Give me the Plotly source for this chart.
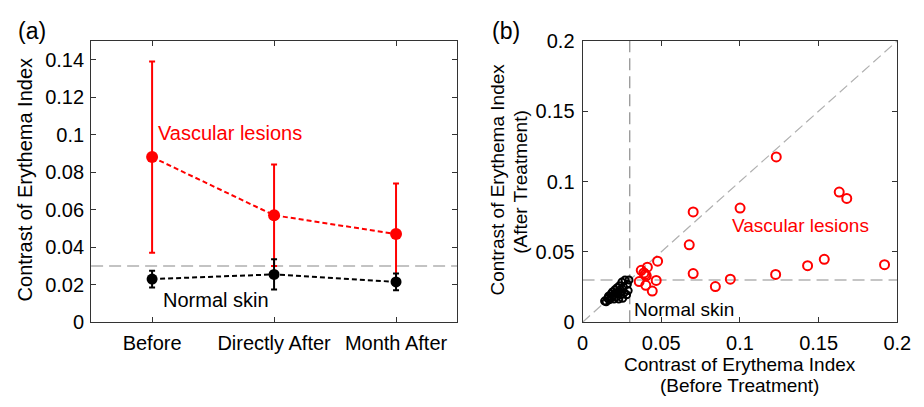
import plotly.graph_objects as go

# ---------- Data ----------
stages = ["Before", "Directly After", "Month After"]
stage_pos = [1, 2, 3]
lesion_mean = [0.088, 0.057, 0.047]
lesion_err = [0.051, 0.027, 0.027]
normal_mean = [0.023, 0.0255, 0.0215]
normal_err = [0.0045, 0.008, 0.0045]
threshold = 0.03

lesion_before = [0.1231, 0.1631, 0.1679, 0.1001, 0.0703, 0.0678, 0.0477, 0.1536, 0.1430,
                 0.1919, 0.1227, 0.0703, 0.0939, 0.0844, 0.0468, 0.0443, 0.0402, 0.0360,
                 0.0412, 0.0373, 0.0398, 0.0405, 0.0390]
lesion_after = [0.1175, 0.0925, 0.0880, 0.0811, 0.0784, 0.0550, 0.0434, 0.0447, 0.0402,
                0.0409, 0.0340, 0.0346, 0.0306, 0.0253, 0.0297, 0.0221, 0.0262, 0.0289,
                0.0391, 0.0369, 0.0340, 0.0330, 0.0350]
normal_before = [0.0140, 0.0150, 0.0160, 0.0165, 0.0170, 0.0180, 0.0185, 0.0190, 0.0195,
                 0.0200, 0.0205, 0.0210, 0.0215, 0.0220, 0.0225, 0.0230, 0.0235, 0.0240,
                 0.0245, 0.0250, 0.0255, 0.0260, 0.0265, 0.0270, 0.0280, 0.0285, 0.0295,
                 0.0290]
normal_after = [0.0150, 0.0145, 0.0170, 0.0185, 0.0160, 0.0200, 0.0175, 0.0215, 0.0190,
                0.0165, 0.0230, 0.0205, 0.0180, 0.0245, 0.0215, 0.0165, 0.0260, 0.0230,
                0.0195, 0.0285, 0.0170, 0.0250, 0.0210, 0.0300, 0.0195, 0.0270, 0.0300,
                0.0225]

FONT = "Arial, Liberation Sans, sans-serif"
RED = "#ff0000"
FS = 20

fig = go.Figure()

# ---------- Panel (a) ----------
fig.add_trace(go.Scatter(
    x=stage_pos, y=lesion_mean, mode="lines+markers",
    line=dict(color=RED, width=2, dash="5px,3px"),
    marker=dict(color=RED, size=12),
    error_y=dict(type="data", array=lesion_err, color=RED, thickness=2, width=3),
    xaxis="x", yaxis="y", showlegend=False))
fig.add_trace(go.Scatter(
    x=stage_pos, y=normal_mean, mode="lines+markers",
    line=dict(color="black", width=2, dash="5px,3px"),
    marker=dict(color="black", size=11),
    error_y=dict(type="data", array=normal_err, color="black", thickness=2, width=3),
    xaxis="x", yaxis="y", showlegend=False))

# ---------- Panel (b) ----------
fig.add_trace(go.Scatter(
    x=lesion_before, y=lesion_after, mode="markers",
    marker=dict(symbol="circle-open", color=RED, size=9, line=dict(width=2, color=RED)),
    xaxis="x2", yaxis="y2", showlegend=False))
fig.add_trace(go.Scatter(
    x=normal_before, y=normal_after, mode="markers",
    marker=dict(symbol="circle-open", color="black", size=7, line=dict(width=2, color="black")),
    xaxis="x2", yaxis="y2", showlegend=False))

shapes = [
    dict(type="line", xref="x domain", x0=0, x1=1, yref="y", y0=threshold, y1=threshold,
         line=dict(color="#b0b0b0", width=1.5, dash="12px,6px"), layer="below"),
    dict(type="line", xref="x2", x0=0, x1=0.2, yref="y2", y0=0, y1=0.2,
         line=dict(color="#b0b0b0", width=1.2, dash="10px,5px"), layer="below"),
    dict(type="line", xref="x2", x0=threshold, x1=threshold, yref="y2", y0=0, y1=0.2,
         line=dict(color="#8c8c8c", width=1.2, dash="12px,6px"), layer="below"),
    dict(type="line", xref="x2", x0=0, x1=0.2, yref="y2", y0=threshold, y1=threshold,
         line=dict(color="#8c8c8c", width=1.2, dash="12px,6px"), layer="below"),
]


def px(xp, yp):
    return xp / 924, 1 - yp / 407


annotations = []


def add_text(text, xp, yp, size=FS, color="black", angle=0, xanchor="center"):
    x, y = px(xp, yp)
    annotations.append(dict(text=text, xref="paper", yref="paper", x=x, y=y,
                            xanchor=xanchor, yanchor="middle", textangle=angle,
                            showarrow=False, font=dict(size=size, color=color)))


add_text("(a)", 10, 21.5, size=23, xanchor="left")
add_text("(b)", 495, 21.5, size=23, xanchor="left")
add_text("Contrast of Erythema Index", 19.5, 179, angle=-90)
add_text("Contrast of Erythema Index", 502, 178, size=19, angle=-90)
add_text("(After Treatment)", 526, 181, size=19, angle=-90)
add_text("Contrast of Erythema Index", 750, 374, size=19)
add_text("(Before Treatment)", 750, 396, size=19)

annotations += [
    dict(text="Vascular lesions", xref="x", yref="y", x=1.035, y=0.101, xanchor="left",
         yanchor="middle", showarrow=False, font=dict(size=FS, color=RED)),
    dict(text="Normal skin", xref="x", yref="y", x=1.07, y=0.0120, xanchor="left",
         yanchor="middle", showarrow=False, font=dict(size=FS, color="black")),
    dict(text="Vascular lesions", xref="x2", yref="y2", x=0.094, y=0.069, xanchor="left",
         yanchor="middle", showarrow=False, font=dict(size=19, color=RED)),
    dict(text="Normal skin", xref="x2", yref="y2", x=0.0315, y=0.0087, xanchor="left",
         yanchor="middle", showarrow=False, font=dict(size=19, color="black")),
]

ax_common = dict(showline=True, linecolor="#333333", linewidth=1, mirror="ticks",
                 ticks="inside", ticklen=5, tickcolor="#333333", showgrid=False,
                 zeroline=False, tickfont=dict(size=FS, color="black"),
                 ticklabeloverflow="allow")

y_dom = [1-329/407, 1-31.5/407]
fig.update_layout(
    width=924, height=407, margin=dict(l=0, r=0, t=0, b=0),
    paper_bgcolor="white", plot_bgcolor="white",
    font=dict(family=FONT, color="black"),
    xaxis=dict(domain=[87/924, 461/924], range=[0.5, 3.5], tickvals=stage_pos,
               ticktext=stages, anchor="y", ticklabelstandoff=3, **ax_common),
    yaxis=dict(domain=y_dom, range=[0, 0.15], tickvals=[0, 0.02, 0.04, 0.06, 0.08, 0.1, 0.12, 0.14],
               ticktext=["0", "0.02", "0.04", "0.06", "0.08", "0.1", "0.12", "0.14"],
               anchor="x", ticklabelstandoff=2, **ax_common),
    xaxis2=dict(domain=[589.3/924, 911/924], range=[0, 0.2], tickvals=[0, 0.05, 0.1, 0.15, 0.2],
                ticktext=["0", "0.05", "0.1", "0.15", "0.2"], anchor="y2",
                ticklabelstandoff=3, **ax_common),
    yaxis2=dict(domain=y_dom, range=[0, 0.2], tickvals=[0, 0.05, 0.1, 0.15, 0.2],
                ticktext=["0", "0.05", "0.1", "0.15", "0.2"], anchor="x2",
                ticklabelstandoff=3, **ax_common),
    shapes=shapes, annotations=annotations,
)

fig.write_html("out.html")
